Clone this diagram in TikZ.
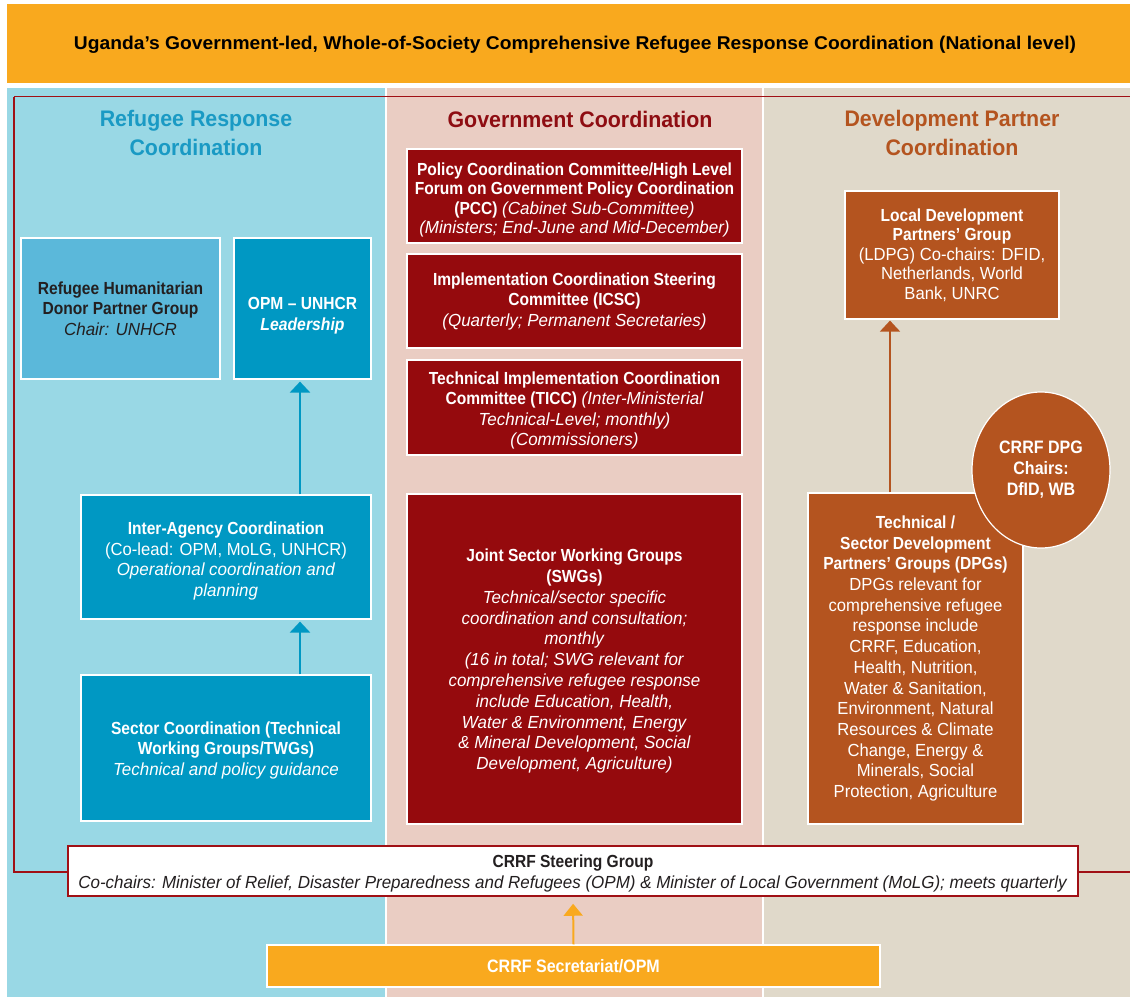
\documentclass[tikz,border=0pt]{standalone}
\usepackage{fontspec}
\setmainfont{Liberation Sans}[FakeStretch=0.95, BoldFeatures={FakeStretch=0.89}, ItalicFeatures={FakeStretch=0.97}, BoldItalicFeatures={FakeStretch=0.9}]
\newfontfamily\titlefont{Liberation Sans}[FakeStretch=1.04]
\newfontfamily\headfont{Liberation Sans}[FakeStretch=0.95]
\usetikzlibrary{arrows.meta,shapes.geometric}
\definecolor{orng}{HTML}{F9A91E}
\definecolor{bluebg}{HTML}{99D8E5}
\definecolor{pinkbg}{HTML}{EACDC3}
\definecolor{beigebg}{HTML}{E0D9CA}
\definecolor{redbox}{HTML}{950A0D}
\definecolor{bluebox}{HTML}{0098C3}
\definecolor{lightbox}{HTML}{5BB8DA}
\definecolor{brownbox}{HTML}{B4541F}
\definecolor{headblue}{HTML}{1A9AC4}
\definecolor{headred}{HTML}{8E0D12}
\definecolor{outline}{HTML}{A01015}
\definecolor{darktext}{HTML}{231F20}
\newcommand\tgap[1]{\rule{0pt}{\dimexpr 13pt+#1pt*2\relax}}
\tikzset{
  box/.style={draw=white, line width=1.2pt, align=center, inner sep=0pt, text=white,
    font=\fontsize{17.5}{20.5}\selectfont},
  sz/.style 2 args={minimum width=#1, minimum height=#2},
  heading/.style={align=center, font=\headfont\fontsize{22.5}{29}\selectfont\bfseries},
  arrblue/.style={draw=bluebox, line width=2.5pt, -{Triangle[width=20pt,length=11pt]}, shorten >=2pt},
  arrbrown/.style={draw=brownbox, line width=2pt, -{Triangle[width=20pt,length=11pt]}, shorten >=1pt},
  arrorange/.style={draw=orng, line width=2pt, -{Triangle[width=19pt,length=12pt]}, shorten >=7pt},
}
\begin{document}
\begin{tikzpicture}[x=1pt,y=-1pt]
\useasboundingbox (0,0) rectangle (1130,997);
\fill[white] (0,0) rectangle (1130,997);
% title band
\fill[orng] (7,4) rectangle (1130,83);
\node[font=\titlefont\fontsize{18.5}{22}\selectfont\bfseries, text=black] (title) at (575,45)
  {Uganda’s Government-led, Whole-of-Society Comprehensive Refugee Response Coordination (National level)};
% columns
\fill[bluebg] (7,88) rectangle (385,997);
\fill[pinkbg] (387,88) rectangle (762,997);
\fill[beigebg] (764,88) rectangle (1130,997);
% red outline
\draw[outline, line width=1.5pt] (14,96.5) -- (1131,96.5) (1131,872) -- (14,872) -- (14,96.5);
% headings
\node[heading, text=headblue] (h1) at (196,133) {Refugee Response\\Coordination};
\node[heading, text=headred] (h2) at (580,119) {Government Coordination};
\node[heading, text=brownbox] (h3) at (952,133) {Development Partner\\Coordination};
% left column
\node[box, sz={199}{141}, fill=lightbox, text=darktext] (donor) at (120.5,308.5)
  {\textbf{Refugee Humanitarian}\\\textbf{Donor Partner Group}\\\textit{Chair: UNHCR}};
\node[box, sz={137}{141}, fill=bluebox] (opm) at (302.5,308.5)
  {\tgap{7}\textbf{OPM – UNHCR}\\\textbf{\textit{Leadership}}};
\node[box, sz={290}{124}, fill=bluebox] (inter) at (226,557)
  {\tgap{4}\textbf{Inter-Agency Coordination}\\(Co-lead: OPM, MoLG, UNHCR)\\\textit{Operational coordination and}\\\textit{planning}};
\node[box, sz={290}{146}, fill=bluebox] (sector) at (226,748)
  {\tgap{2}\textbf{Sector Coordination (Technical}\\\textbf{Working Groups/TWGs)}\\\textit{Technical and policy guidance}};
\coordinate (ax) at (300,0);
\draw[arrblue] (inter.north -| ax) -- (opm.south -| ax);
\draw[arrblue] (sector.north -| ax) -- (inter.south -| ax);
% middle column
\node[box, sz={335}{94}, fill=redbox, font=\fontsize{17.5}{19.5}\selectfont] (pcc) at (574.5,196)
  {\tgap{4}\textbf{Policy Coordination Committee/High Level}\\\textbf{Forum on Government Policy Coordination}\\\textbf{(PCC)} \textit{(Cabinet Sub-Committee)}\\\textit{(Ministers; End-June and Mid-December)}};
\node[box, sz={335}{94}, fill=redbox, font=\fontsize{17.5}{20.5}\selectfont] (icsc) at (574.5,301)
  {\textbf{Implementation Coordination Steering}\\\textbf{Committee (ICSC)}\\\textit{(Quarterly; Permanent Secretaries)}};
\node[box, sz={335}{95}, fill=redbox, font=\fontsize{17.5}{20.5}\selectfont] (ticc) at (574.5,407.5)
  {\tgap{3}\textbf{Technical Implementation Coordination}\\\textbf{Committee (TICC)} \textit{(Inter-Ministerial}\\\textit{Technical-Level; monthly)}\\\textit{(Commissioners)}};
\node[box, sz={335}{330}, fill=redbox, font=\fontsize{17.5}{20.8}\selectfont] (swg) at (574.5,659)
  {\tgap{2}\textbf{Joint Sector Working Groups}\\\textbf{(SWGs)}\\\textit{Technical/sector specific}\\\textit{coordination and consultation;}\\\textit{monthly}\\\textit{(16 in total; SWG relevant for}\\\textit{comprehensive refugee response}\\\textit{include Education, Health,}\\\textit{Water \& Environment, Energy}\\\textit{\& Mineral Development, Social}\\\textit{Development, Agriculture)}};
% right column
\node[box, sz={214}{128}, fill=brownbox, font=\fontsize{17.5}{19.5}\selectfont] (ldpg) at (952,255)
  {\textbf{Local Development}\\\textbf{Partners’ Group}\\(LDPG) Co-chairs: DFID,\\Netherlands, World\\Bank, UNRC};
\node[box, sz={215}{331}, fill=brownbox, font=\fontsize{17.5}{20.7}\selectfont] (dpg) at (915.5,658.5)
  {\textbf{Technical /}\\\textbf{Sector Development}\\\textbf{Partners’ Groups (DPGs)}\\DPGs relevant for\\comprehensive refugee\\response include\\CRRF, Education,\\Health, Nutrition,\\Water \& Sanitation,\\Environment, Natural\\Resources \& Climate\\Change, Energy \&\\Minerals, Social\\Protection, Agriculture};
\node[ellipse, draw=white, line width=1.2pt, fill=brownbox, minimum width=138, minimum height=156, inner sep=0pt,
  align=center, text=white, font=\fontsize{18}{21}\selectfont\bfseries] (dpgchairs) at (1041,470)
  {CRRF DPG\\Chairs:\\DfID, WB};
\coordinate (bx) at (890,0);
\draw[arrbrown] (dpg.north -| bx) -- (ldpg.south -| bx);
% bottom
\node[draw=outline, line width=1.5pt, fill=white, sz={1010}{50}, inner sep=0pt, align=center, text=darktext,
  font=\fontsize{17.5}{21}\selectfont] (steer) at (573,871)
  {\tgap{2}\textbf{CRRF Steering Group}\\\textit{Co-chairs: Minister of Relief, Disaster Preparedness and Refugees (OPM) \& Minister of Local Government (MoLG); meets quarterly}};
\node[box, sz={613}{42}, fill=orng, font=\fontsize{18}{20}\selectfont\bfseries] (secr) at (573.5,966)
  {CRRF Secretariat/OPM};
\draw[arrorange] (secr.north) -- (steer.south);
\end{tikzpicture}
\end{document}
